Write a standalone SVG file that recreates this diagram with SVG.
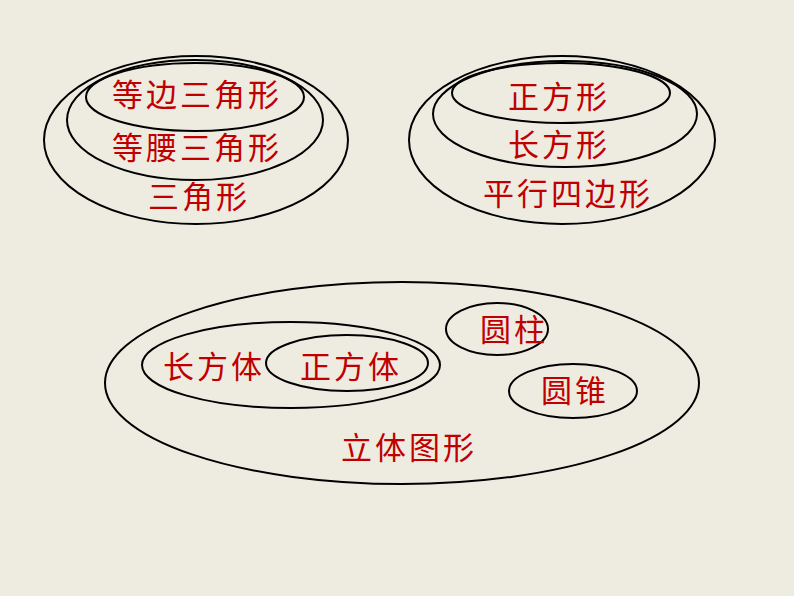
<svg xmlns="http://www.w3.org/2000/svg" width="794" height="596" viewBox="0 0 794 596">
<style>
.e{fill:none;stroke:#000;stroke-width:2}
.t{font-family:"Liberation Serif","Noto Sans CJK SC",serif;font-size:31px;fill:#C00000;text-anchor:middle;dominant-baseline:central;letter-spacing:3px}
</style>
<rect width="794" height="596" fill="#EEECE1"/>
<g id="triangles">
<g id="n-triangle"><ellipse class="e" cx="196" cy="140" rx="152" ry="84"/><text class="t" x="199" y="197">三角形</text></g>
<g id="n-isosceles"><ellipse class="e" cx="195" cy="120" rx="128" ry="60"/><text class="t" x="197" y="148">等腰三角形</text></g>
<g id="n-equilateral"><ellipse class="e" cx="195" cy="97" rx="109" ry="34"/><text class="t" x="197" y="95">等边三角形</text></g>
</g>
<g id="quadrilaterals">
<g id="n-parallelogram"><ellipse class="e" cx="562" cy="140" rx="153" ry="84"/><text class="t" x="568" y="194">平行四边形</text></g>
<g id="n-rectangle"><ellipse class="e" cx="565" cy="114" rx="132" ry="53"/><text class="t" x="559" y="145">长方形</text></g>
<g id="n-square"><ellipse class="e" cx="561" cy="93" rx="109" ry="30"/><text class="t" x="559" y="97">正方形</text></g>
</g>
<g id="solids">
<g id="n-solid"><ellipse class="e" cx="402" cy="383" rx="297" ry="101"/><text class="t" x="409" y="448">立体图形</text></g>
<g id="n-cuboid"><ellipse class="e" cx="291" cy="365" rx="149" ry="43"/><text class="t" x="214" y="367">长方体</text></g>
<g id="n-cube"><ellipse class="e" cx="347" cy="363" rx="81" ry="28"/><text class="t" x="351" y="367">正方体</text></g>
<g id="n-cylinder"><ellipse class="e" cx="497" cy="329" rx="51" ry="26"/><text class="t" x="514" y="330">圆柱</text></g>
<g id="n-cone"><ellipse class="e" cx="573" cy="391" rx="64" ry="27"/><text class="t" x="575" y="391">圆锥</text></g>
</g>
<g id="connectors"/>
</svg>
